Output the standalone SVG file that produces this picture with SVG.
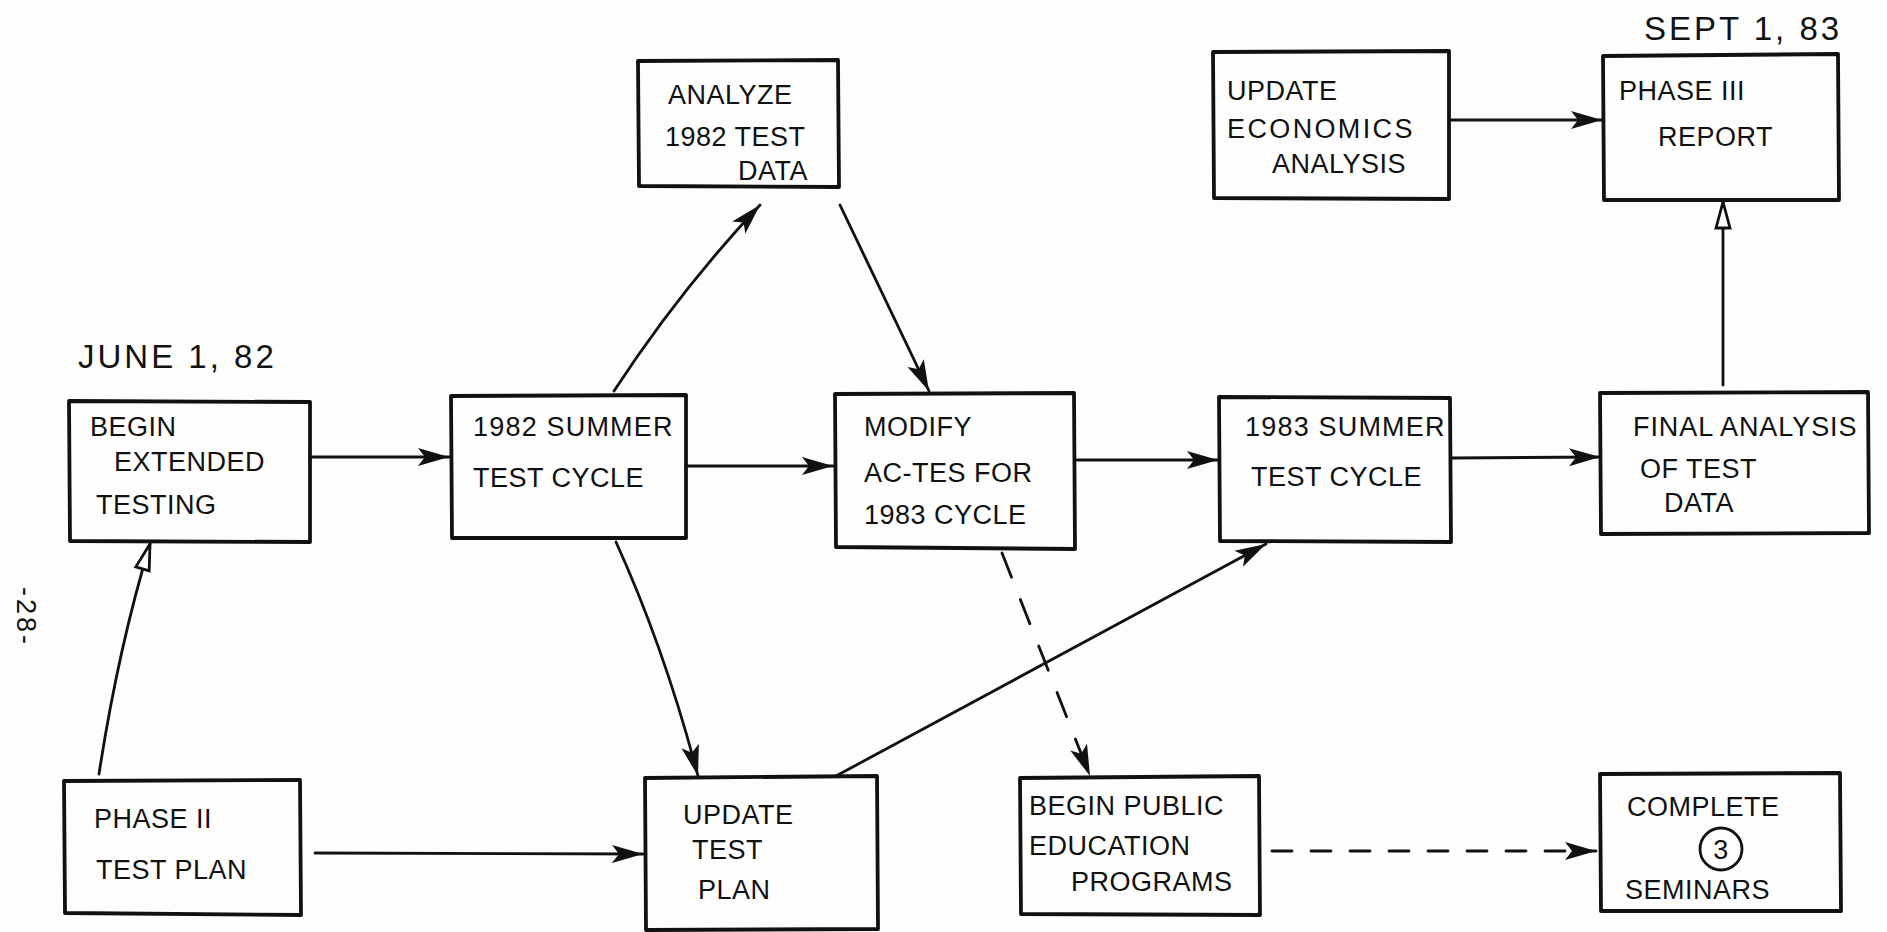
<svg xmlns="http://www.w3.org/2000/svg" width="1887" height="932" viewBox="0 0 1887 932">
<style>
.box{fill:none;stroke:#111;stroke-width:3.8;stroke-linejoin:round}
.t{font-family:"Liberation Sans",Arial,sans-serif;font-size:27px;fill:#111;letter-spacing:0.5px}
.lbl{font-family:"Liberation Sans",Arial,sans-serif;font-size:33px;fill:#111;letter-spacing:3px}
.c{fill:none;stroke:#111;stroke-width:2.8;stroke-linecap:round}
.d{stroke-dasharray:26 24}
.d2{stroke-dasharray:20 19}
</style>
<defs>
<marker id="af" markerUnits="userSpaceOnUse" markerWidth="34" markerHeight="24" refX="31" refY="12" orient="auto">
<path d="M0,3 L31,12 L0,21 L7,12 Z" fill="#111"/>
</marker>
<marker id="ao" markerUnits="userSpaceOnUse" markerWidth="32" markerHeight="20" refX="28" refY="9" orient="auto">
<path d="M2,2 L28,9 L2,16 Z" fill="#fff" stroke="#111" stroke-width="2.8"/>
</marker>
</defs>
<rect width="1887" height="932" fill="#fdfdfd"/>
<text class="lbl" x="78" y="368">JUNE 1, 82</text>
<text class="lbl" x="1644" y="40">SEPT 1, 83</text>
<text class="lbl" x="17" y="617" style="font-size:27px" text-anchor="middle" transform="rotate(90 17 617)">-28-</text>

<g id="connectors">
<path class="c" d="M310,457 L449,457" marker-end="url(#af)"/>
<path class="c" d="M614,391 Q680,290 760,205" marker-end="url(#af)"/>
<path class="c" d="M840,205 L929,391" marker-end="url(#af)"/>
<path class="c" d="M686,466 L833,466" marker-end="url(#af)"/>
<path class="c" d="M1077,460 L1218,460" marker-end="url(#af)"/>
<path class="c" d="M1452,458 L1600,457" marker-end="url(#af)"/>
<path class="c" d="M1723,385 L1723,202" marker-end="url(#ao)"/>
<path class="c" d="M1450,120 L1602,120" marker-end="url(#af)"/>
<path class="c" d="M616,542 Q665,650 698,776" marker-end="url(#af)"/>
<path class="c" d="M99,774 Q118,650 150,544" marker-end="url(#ao)"/>
<path class="c" d="M315,853 L643,854" marker-end="url(#af)"/>
<path class="c" d="M836,776 L1266,544" marker-end="url(#af)"/>
<path class="c d" d="M1002,553 L1090,776" marker-end="url(#af)"/>
<path class="c d2" d="M1272,851 L1596,851" marker-end="url(#af)"/>
</g>

<g id="n-begin-extended">
<path class="box" d="M69,401 L310,402 L310,542 L70,541 Z"/>
<text class="t" x="90" y="436">BEGIN</text>
<text class="t" x="114" y="471">EXTENDED</text>
<text class="t" x="96" y="514">TESTING</text>
</g>
<g id="n-1982-summer">
<path class="box" d="M451,396 L686,395 L686,538 L452,538 Z"/>
<text class="t" x="473" y="436" textLength="200">1982 SUMMER</text>
<text class="t" x="473" y="487">TEST CYCLE</text>
</g>
<g id="n-analyze">
<path class="box" d="M638,61 L838,60 L839,187 L639,186 Z"/>
<text class="t" x="668" y="104">ANALYZE</text>
<text class="t" x="665" y="146">1982 TEST</text>
<text class="t" x="738" y="180">DATA</text>
</g>
<g id="n-modify">
<path class="box" d="M835,394 L1074,393 L1075,549 L836,547 Z"/>
<text class="t" x="864" y="436">MODIFY</text>
<text class="t" x="864" y="482">AC-TES FOR</text>
<text class="t" x="864" y="524">1983 CYCLE</text>
</g>
<g id="n-1983-summer">
<path class="box" d="M1219,397 L1450,398 L1451,542 L1220,541 Z"/>
<text class="t" x="1245" y="436" textLength="200">1983 SUMMER</text>
<text class="t" x="1251" y="486">TEST CYCLE</text>
</g>
<g id="n-final-analysis">
<path class="box" d="M1600,393 L1868,392 L1869,533 L1601,534 Z"/>
<text class="t" x="1633" y="436" textLength="224">FINAL ANALYSIS</text>
<text class="t" x="1640" y="478">OF TEST</text>
<text class="t" x="1664" y="512">DATA</text>
</g>
<g id="n-update-economics">
<path class="box" d="M1213,52 L1449,51 L1449,199 L1214,198 Z"/>
<text class="t" x="1227" y="100">UPDATE</text>
<text class="t" x="1227" y="138" textLength="186">ECONOMICS</text>
<text class="t" x="1272" y="173">ANALYSIS</text>
</g>
<g id="n-phase-iii">
<path class="box" d="M1603,56 L1838,54 L1839,200 L1604,200 Z"/>
<text class="t" x="1619" y="100">PHASE III</text>
<text class="t" x="1658" y="146">REPORT</text>
</g>
<g id="n-phase-ii">
<path class="box" d="M64,781 L300,780 L301,915 L65,913 Z"/>
<text class="t" x="94" y="828">PHASE II</text>
<text class="t" x="96" y="879">TEST PLAN</text>
</g>
<g id="n-update-test-plan">
<path class="box" d="M645,778 L877,776 L878,929 L646,930 Z"/>
<text class="t" x="683" y="824">UPDATE</text>
<text class="t" x="692" y="859">TEST</text>
<text class="t" x="698" y="899">PLAN</text>
</g>
<g id="n-begin-public">
<path class="box" d="M1020,778 L1259,776 L1260,915 L1021,914 Z"/>
<text class="t" x="1029" y="815">BEGIN PUBLIC</text>
<text class="t" x="1029" y="855">EDUCATION</text>
<text class="t" x="1071" y="891">PROGRAMS</text>
</g>
<g id="n-complete-seminars">
<path class="box" d="M1600,774 L1840,773 L1841,911 L1601,911 Z"/>
<text class="t" x="1627" y="816">COMPLETE</text>
<circle cx="1721" cy="849" r="21" fill="none" stroke="#111" stroke-width="2.8"/>
<text class="t" x="1721" y="859" text-anchor="middle">3</text>
<text class="t" x="1625" y="899">SEMINARS</text>
</g>
</svg>
